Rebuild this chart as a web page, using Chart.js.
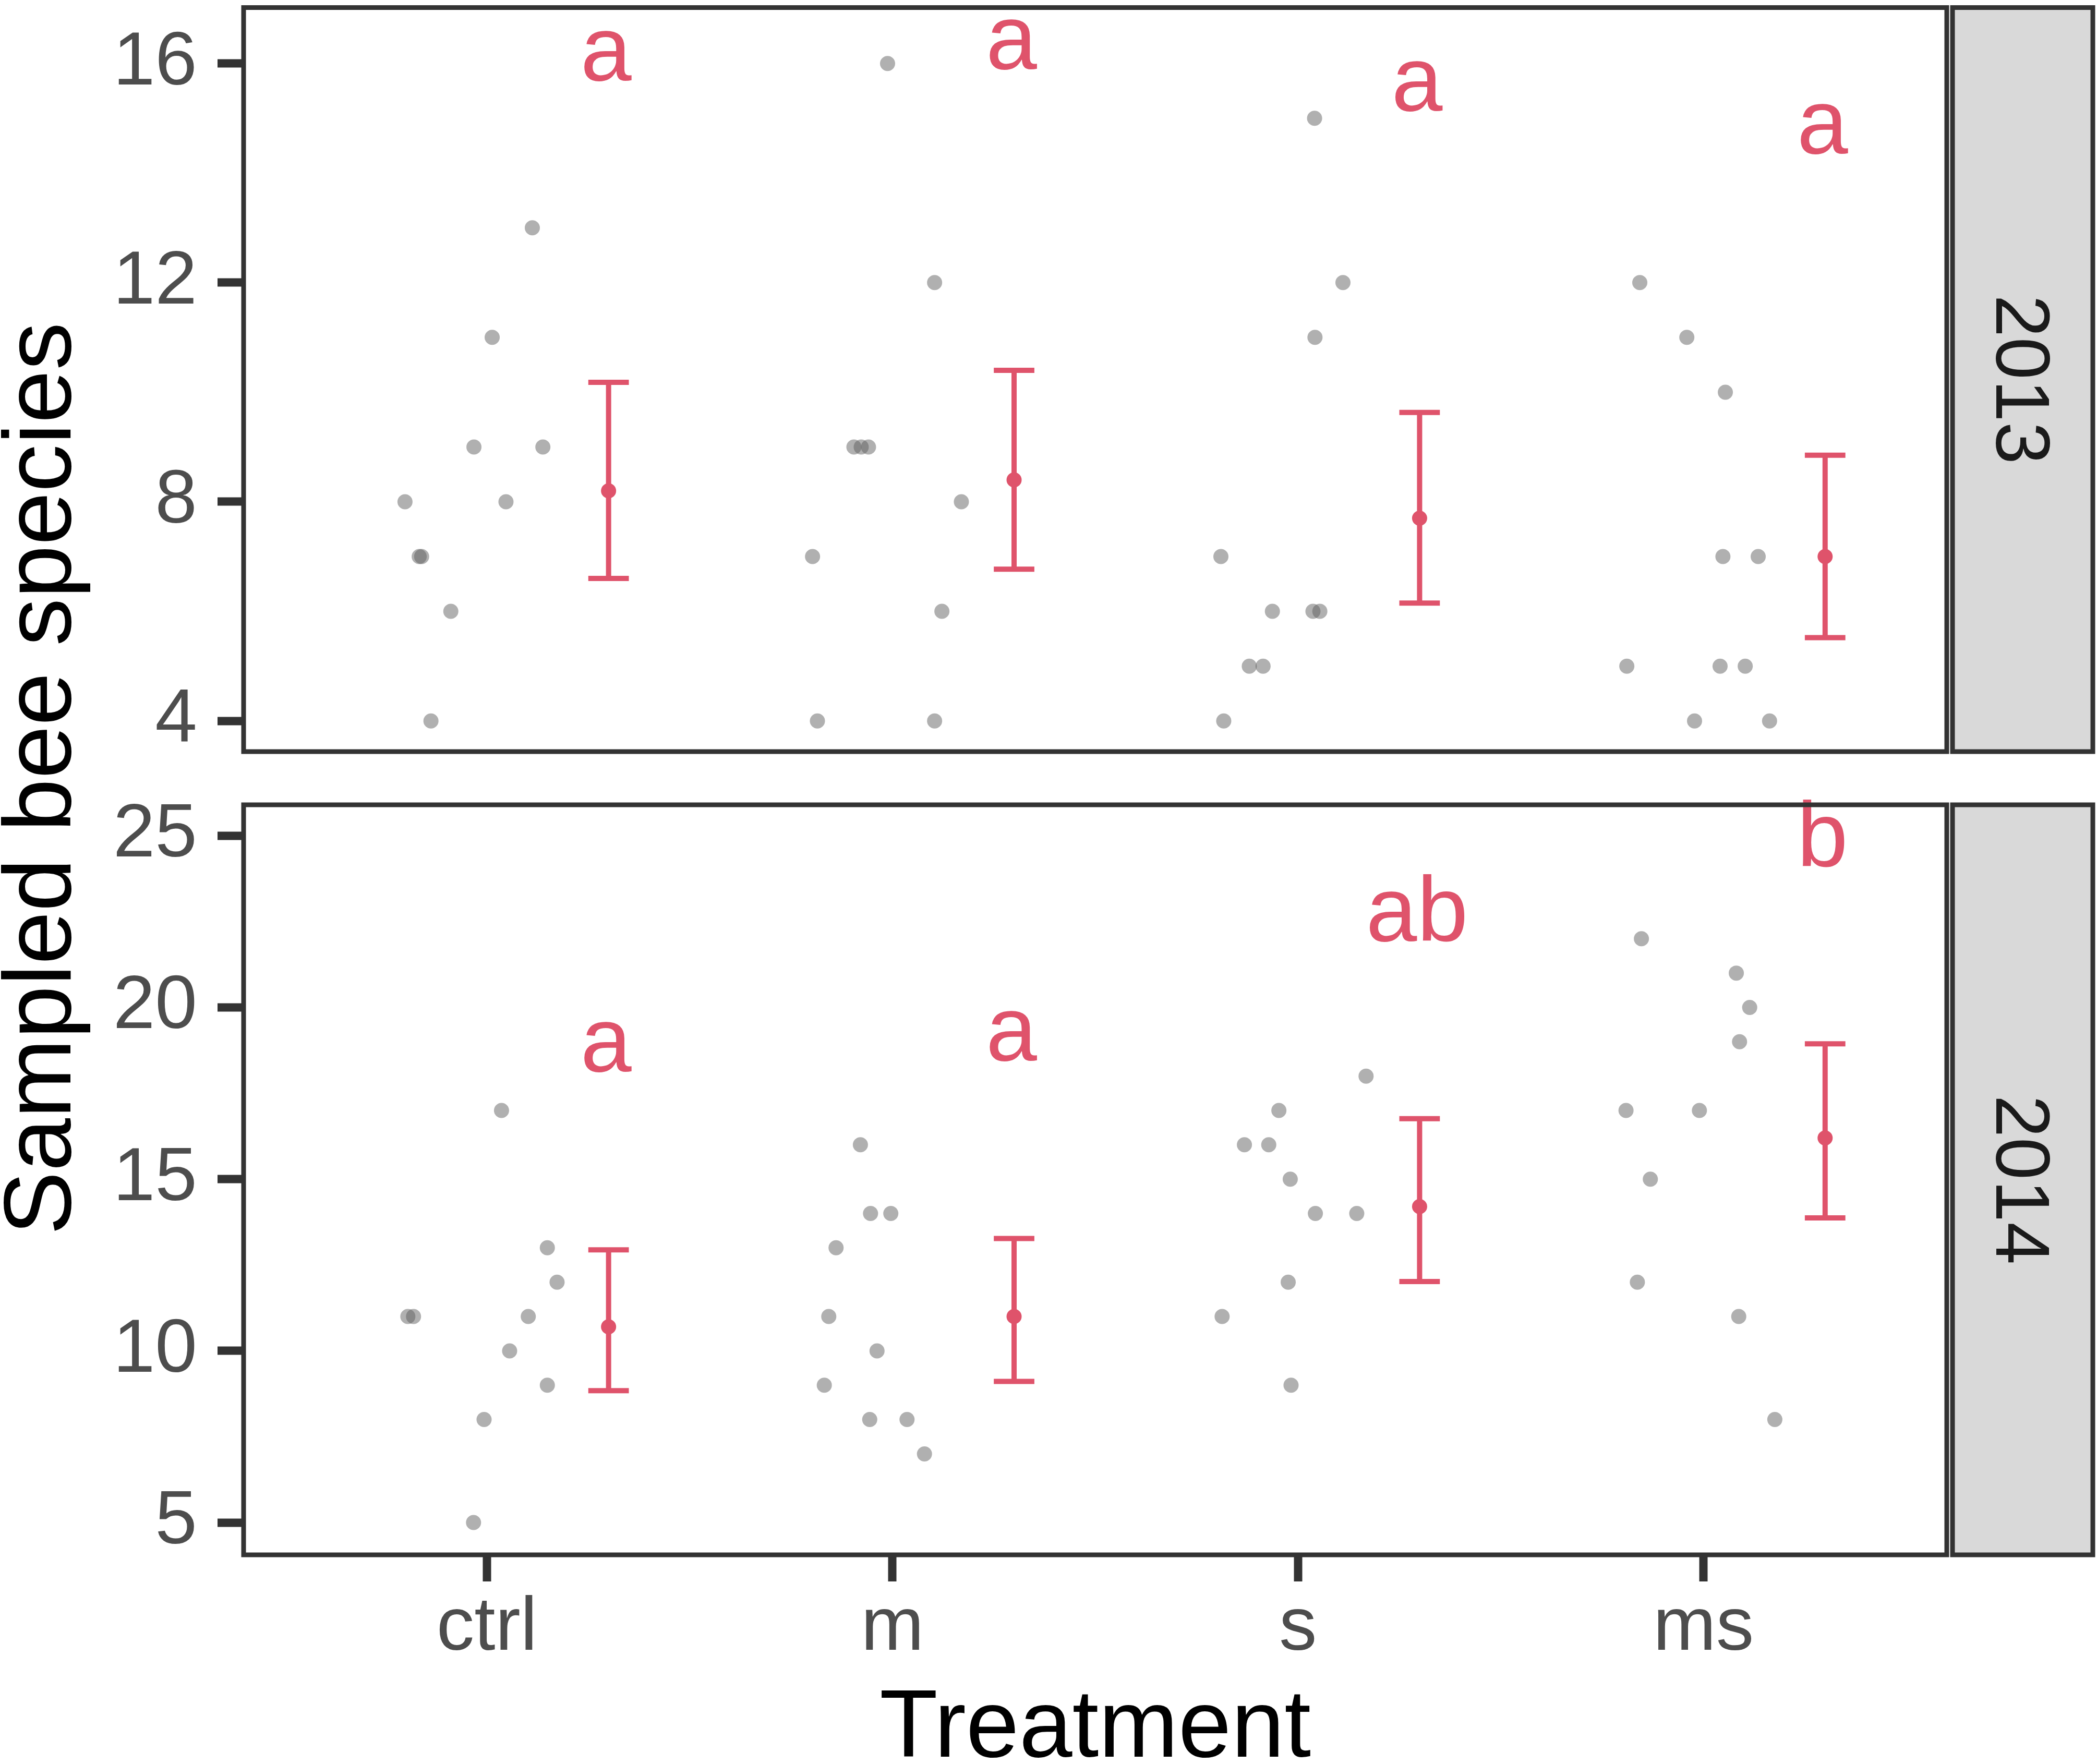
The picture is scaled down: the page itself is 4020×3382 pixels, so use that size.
<!DOCTYPE html>
<html>
<head>
<meta charset="utf-8">
<script src="https://cdn.jsdelivr.net/npm/chart.js@4.4.1/dist/chart.umd.min.js"></script>
<style>
  html, body { margin: 0; padding: 0; background: #ffffff; }
  body { width: 4020px; height: 3382px; position: relative; overflow: hidden; }
  canvas { position: absolute; left: 0; top: 0; }
</style>
</head>
<body>
<canvas id="c2014" width="4020" height="3382" style="width:4020px;height:3382px"></canvas>
<canvas id="c2013" width="4020" height="1500" style="width:4020px;height:1500px"></canvas>
<script>
// treatments on the x axis
const treatments = ['ctrl', 'm', 's', 'ms'];

// 2013: sampled bee species per plot, and the horizontal jitter of each dot
const species2013 = [
  [8, 7, 7, 6, 4, 9, 11, 8, 13, 9],
  [7, 4, 9, 9, 9, 16, 12, 4, 6, 8],
  [15, 12, 11, 7, 6, 6, 6, 5, 5, 4],
  [12, 11, 10, 7, 7, 5, 5, 5, 4, 4]
];
const jitter2013 = [
  [-0.202, -0.167, -0.161, -0.089, -0.138, -0.032, 0.013, 0.047, 0.112, 0.138],
  [-0.197, -0.185, -0.095, -0.077, -0.059, -0.012, 0.104, 0.104, 0.122, 0.170],
  [0.041, 0.111, 0.042, -0.190, -0.063, 0.037, 0.054, -0.120, -0.086, -0.183],
  [-0.157, -0.041, 0.054, 0.048, 0.135, -0.189, 0.041, 0.103, -0.022, 0.163]
];
const mean2013 = [8.2, 8.4, 7.7, 7.0];
const low2013 = [6.6, 6.77, 6.15, 5.52];
const high2013 = [10.18, 10.4, 9.63, 8.85];
const letters2013 = ['a', 'a', 'a', 'a'];
const letterY2013 = [16.05, 16.26, 15.5, 14.72];
const ticks2013 = [4, 8, 12, 16];

// 2014
const species2014 = [
  [11, 11, 17, 5, 8, 10, 11, 13, 12, 9],
  [16, 14, 14, 13, 11, 10, 9, 8, 8, 7],
  [18, 17, 16, 16, 15, 14, 14, 12, 11, 9],
  [22, 21, 20, 19, 17, 17, 15, 12, 11, 8]
];
const jitter2014 = [
  [-0.195, -0.181, 0.036, -0.033, -0.007, 0.056, 0.102, 0.149, 0.173, 0.149],
  [-0.079, -0.054, -0.004, -0.139, -0.157, -0.038, -0.168, -0.056, 0.036, 0.079],
  [0.168, -0.047, -0.132, -0.072, -0.019, 0.043, 0.145, -0.024, -0.187, -0.017],
  [-0.153, 0.081, 0.114, 0.089, -0.191, -0.010, -0.131, -0.163, 0.087, 0.176]
];
const mean2014 = [10.7, 11.0, 14.2, 16.2];
const low2014 = [8.84, 9.11, 12.02, 13.87];
const high2014 = [12.94, 13.27, 16.76, 18.94];
const letters2014 = ['a', 'a', 'ab', 'b'];
const letterY2014 = [18.71, 19.04, 22.51, 24.69];
const ticks2014 = [5, 10, 15, 20, 25];

const FONT = "'Liberation Sans', Arial, Helvetica, sans-serif";
const RED = '#DF536B';
const DODGE = 0.3;

function pointsFor(values, jitter) {
  const pts = [];
  values.forEach((vals, i) => vals.forEach((v, j) => pts.push({ x: i + 1 + jitter[i][j], y: v })));
  return pts;
}

// error bars under the means, letters above
const summaryPlugin = {
  id: 'summary',
  beforeDatasetsDraw(chart, args, opts) {
    const { ctx, scales: { x, y } } = chart;
    ctx.save();
    ctx.strokeStyle = RED;
    ctx.lineWidth = 10;
    opts.mean.forEach((m, i) => {
      const px = x.getPixelForValue(i + 1 + DODGE);
      const w = x.getPixelForValue(i + 1 + DODGE + 0.05) - px;
      const yl = y.getPixelForValue(opts.low[i]);
      const yh = y.getPixelForValue(opts.high[i]);
      ctx.beginPath();
      ctx.moveTo(px, yl); ctx.lineTo(px, yh);
      ctx.moveTo(px - w, yl); ctx.lineTo(px + w, yl);
      ctx.moveTo(px - w, yh); ctx.lineTo(px + w, yh);
      ctx.stroke();
    });
    ctx.restore();
  },
  afterDatasetsDraw(chart, args, opts) {
    const { ctx, scales: { x, y } } = chart;
    ctx.save();
    ctx.fillStyle = RED;
    ctx.font = '176px ' + FONT;
    ctx.textAlign = 'center';
    ctx.textBaseline = 'alphabetic';
    opts.letters.forEach((t, i) => {
      ctx.fillText(t, x.getPixelForValue(i + 1 + DODGE) - 5, y.getPixelForValue(opts.letterY[i]) + 38);
    });
    ctx.restore();
  }
};

// panel border, facet strip and (bottom chart only) the shared y title
const framePlugin = {
  id: 'frame',
  afterDraw(chart, args, opts) {
    const { ctx, chartArea: a } = chart;
    ctx.save();
    ctx.lineWidth = 9;
    ctx.strokeStyle = '#333333';
    ctx.strokeRect(a.left, a.top, a.right - a.left, a.bottom - a.top);
    const sx = a.right + 11, sw = 269;
    ctx.fillStyle = '#d9d9d9';
    ctx.fillRect(sx, a.top, sw, a.bottom - a.top);
    ctx.strokeRect(sx, a.top, sw, a.bottom - a.top);
    ctx.save();
    ctx.translate(sx + 84, (a.top + a.bottom) / 2);
    ctx.rotate(Math.PI / 2);
    ctx.fillStyle = '#1a1a1a';
    ctx.font = '146px ' + FONT;
    ctx.textAlign = 'center';
    ctx.textBaseline = 'alphabetic';
    ctx.fillText(opts.strip, 0, 0);
    ctx.restore();
    if (opts.yTitle) {
      ctx.translate(135, 1493);
      ctx.rotate(-Math.PI / 2);
      ctx.fillStyle = '#000000';
      ctx.font = '183px ' + FONT;
      ctx.textAlign = 'center';
      ctx.textBaseline = 'alphabetic';
      ctx.fillText(opts.yTitle, 0, 0);
    }
    ctx.restore();
  }
};

function makePanel(id, cfg) {
  return new Chart(document.getElementById(id), {
    type: 'scatter',
    data: {
      datasets: [{
        data: pointsFor(cfg.values, cfg.jitter),
        backgroundColor: 'rgba(90,90,90,0.48)',
        borderWidth: 0,
        pointRadius: 14.5
      }, {
        data: cfg.mean.map((m, i) => ({ x: i + 1 + DODGE, y: m })),
        backgroundColor: RED,
        borderWidth: 0,
        pointRadius: 14.5
      }]
    },
    options: {
      responsive: false,
      maintainAspectRatio: false,
      animation: false,
      devicePixelRatio: 1,
      layout: { padding: cfg.padding },
      plugins: {
        legend: { display: false },
        tooltip: { enabled: false },
        summary: { mean: cfg.mean, low: cfg.low, high: cfg.high, letters: cfg.letters, letterY: cfg.letterY },
        frame: { strip: cfg.strip, yTitle: cfg.yTitle }
      },
      scales: {
        x: {
          type: 'linear',
          min: 0.4,
          max: 4.6,
          display: cfg.showX,
          afterBuildTicks: s => { s.ticks = treatments.map((t, i) => ({ value: i + 1 })); },
          afterFit: s => { s.height = cfg.showX ? 401 : 0; s.paddingLeft = 0; s.paddingRight = 0; },
          border: { display: false },
          grid: { drawOnChartArea: false, drawTicks: true, tickLength: 51, tickWidth: 16, tickColor: '#333333' },
          ticks: {
            autoSkip: false,
            maxRotation: 0,
            padding: 4,
            color: '#4d4d4d',
            font: { family: FONT, size: 145 },
            callback: v => treatments[Math.round(v) - 1]
          },
          title: {
            display: true,
            text: 'Treatment',
            color: '#000000',
            padding: 0,
            font: { family: FONT, size: 183, lineHeight: 0.71 }
          }
        },
        y: {
          type: 'linear',
          min: cfg.yMin,
          max: cfg.yMax,
          afterBuildTicks: s => { s.ticks = cfg.ticks.map(v => ({ value: v })); },
          afterFit: s => { s.width = 467; s.paddingTop = 0; s.paddingBottom = 0; },
          border: { display: false },
          grid: { drawOnChartArea: false, drawTicks: true, tickLength: 50, tickWidth: 16, tickColor: '#333333' },
          ticks: {
            autoSkip: false,
            padding: 39,
            color: '#4d4d4d',
            font: { family: FONT, size: 145 }
          }
        }
      }
    },
    plugins: [summaryPlugin, framePlugin]
  });
}

makePanel('c2014', {
  values: species2014, jitter: jitter2014,
  mean: mean2014, low: low2014, high: high2014,
  letters: letters2014, letterY: letterY2014,
  ticks: ticks2014, yMin: 4.06, yMax: 25.9,
  strip: '2014', yTitle: 'Sampled bee species',
  showX: true,
  padding: { top: 1543, right: 288, bottom: 0, left: 0 }
});

makePanel('c2013', {
  values: species2013, jitter: jitter2013,
  mean: mean2013, low: low2013, high: high2013,
  letters: letters2013, letterY: letterY2013,
  ticks: ticks2013, yMin: 3.44, yMax: 17.02,
  strip: '2013', yTitle: null,
  showX: false,
  padding: { top: 5, right: 288, bottom: 59, left: 0 }
});
</script>
</body>
</html>
